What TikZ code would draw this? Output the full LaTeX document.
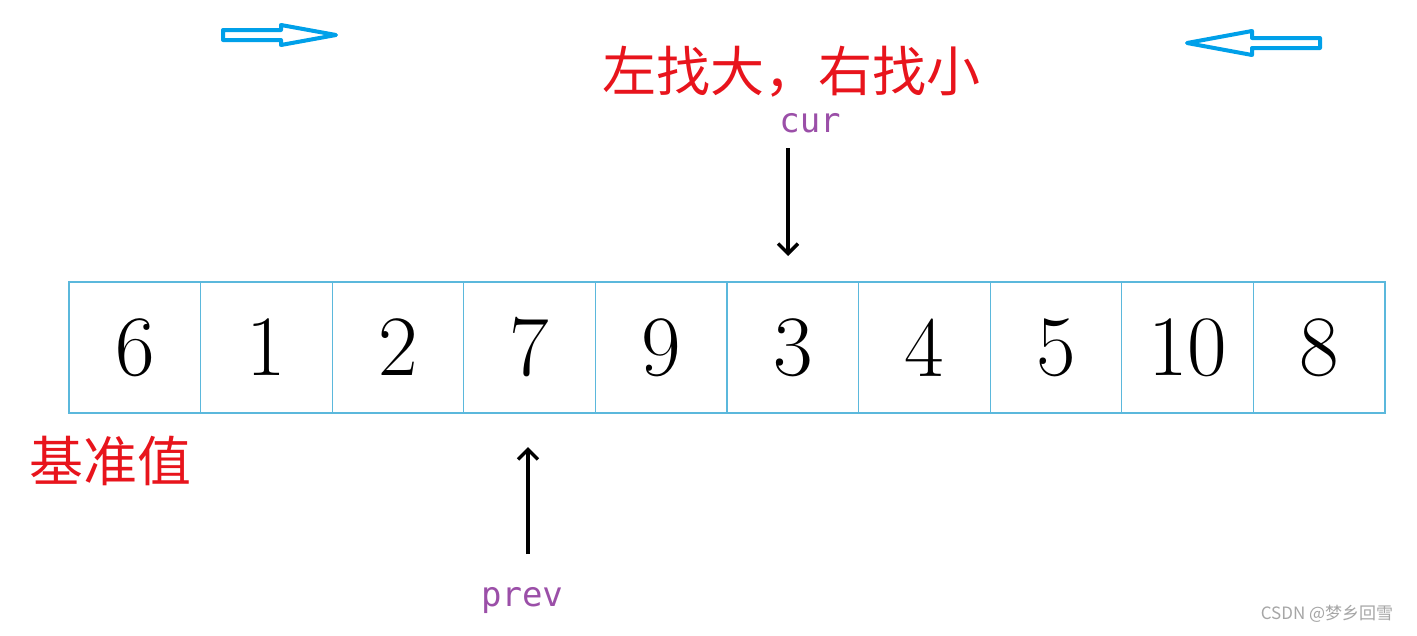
\documentclass[tikz,border=0pt]{standalone}
\usepackage{fontspec}
\newfontfamily\cjk{Noto Sans CJK SC}
\newfontfamily\monof{DejaVu Sans Mono}
\usetikzlibrary{arrows.meta}
\definecolor{cellblue}{HTML}{5BB8DC}
\definecolor{arrblue}{HTML}{00A0E9}
\definecolor{lblpurple}{HTML}{9B4FA8}
\definecolor{txtred}{HTML}{E8141C}
\tikzset{
  cell/.style={draw=cellblue, line width=1.3pt, minimum width=131.6pt, minimum height=131pt, inner sep=0pt, font=\fontsize{86}{86}\selectfont},
  ptr/.style={line width=3.4pt, -{Straight Barb[length=10pt, width=20pt, line width=3.4pt]}},
  ptrlabel/.style={text=lblpurple, font=\monof\fontsize{34}{34}\selectfont},
  redtxt/.style={text=txtred, font=\cjk\fontsize{54}{54}\selectfont},
  hollow/.style={draw=arrblue, line width=4pt, line join=round}
}
\begin{document}
\begin{tikzpicture}[x=1pt,y=-1pt]
\useasboundingbox (0,0) rectangle (1417,635);
\fill[white] (0,0) rectangle (1417,635);
% cells
\foreach \v [count=\i from 0] in {6,1,2,7,9,3,4,5,10,8} {
  \node[cell] (c\i) at ({69+131.6*\i+65.8},347.5) {\v};
}
% labels
\node[ptrlabel] (cur) at (810,123) {cur};
\node[ptrlabel] (prev) at (522,601) {prev};
\coordinate (curtop) at (788,148);
\coordinate (curbot) at (788,256);
\coordinate (prevbot) at (528,554);
\coordinate (prevtop) at (528,447);
\draw[ptr] (curtop) -- (curbot);
\draw[ptr] (prevbot) -- (prevtop);
\node[redtxt] (rule) at (791,72) {左找大，右找小};
\node[redtxt] (pivot) at (111,461) {基准值};
% hollow arrows
\draw[hollow] (223,30) -- (281,30) -- (281,25) -- (336,35) -- (281,45) -- (281,40) -- (223,40) -- cycle;
\draw[hollow] (1320,38) -- (1252,38) -- (1252,31) -- (1187,43) -- (1252,55) -- (1252,48) -- (1320,48) -- cycle;
\node[text=gray!70, font=\cjk\fontsize{17}{17}\selectfont] (wm) at (1327,614) {CSDN @梦乡回雪};
\end{tikzpicture}
\end{document}
